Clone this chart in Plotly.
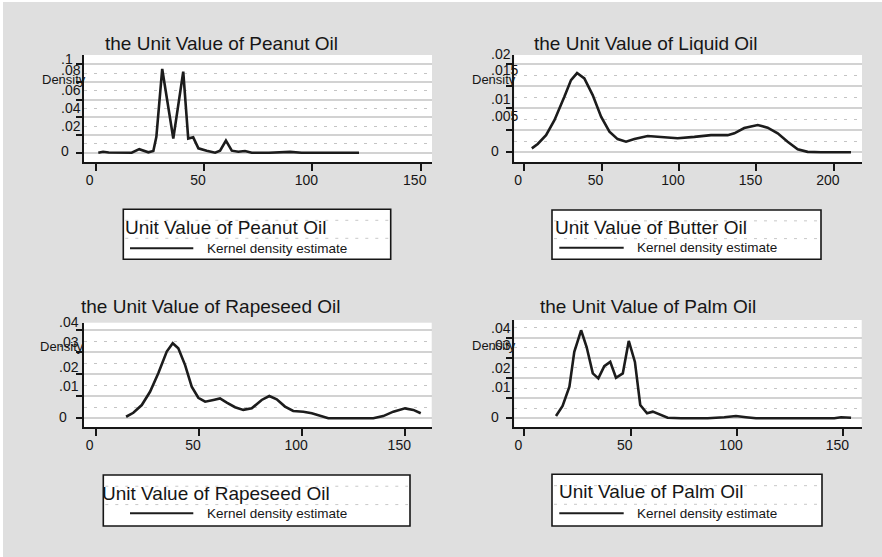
import plotly.graph_objects as go

W, H = 882, 557

# ---------------- data ----------------
peanut_x = [1.2, 3.4, 6.0, 10.0, 16.6, 20.1, 24.3, 26.6, 28.0, 30.7, 35.8, 40.4, 42.7, 45.0, 47.4,
            51.2, 55.1, 57.4, 60.1, 62.8, 65.8, 68.9, 72.0, 80.0, 89.7, 95.0, 110.0, 121.5]
peanut_y = [0.0, 0.001, 0.0002, 0.0, 0.0, 0.004, 0.0005, 0.002, 0.018, 0.0947, 0.016, 0.0916, 0.016,
            0.0174, 0.005, 0.0023, 0.0, 0.0023, 0.0136, 0.0023, 0.0011, 0.0019, 0.0, 0.0, 0.001, 0.0, 0.0, 0.0]

liquid_x = [5.0, 8.8, 14.2, 19.6, 26.0, 30.3, 34.2, 38.9, 44.3, 49.7, 55.1, 60.4, 65.8, 71.2, 79.8,
            88.4, 99.1, 109.9, 120.6, 131.4, 135.7, 142.1, 150.8, 157.2, 163.7, 170.1, 176.6, 183.0,
            191.6, 211.0]
liquid_y = [0.0009, 0.0019, 0.0039, 0.0073, 0.0126, 0.0164, 0.018, 0.0168, 0.013, 0.0081, 0.0047,
            0.003, 0.0024, 0.003, 0.0037, 0.0035, 0.0032, 0.0035, 0.0039, 0.0039, 0.0043, 0.0055,
            0.0062, 0.0056, 0.0043, 0.0024, 0.0007, 0.0001, 0.0, 0.0]

rapeseed_x = [14.7, 18.2, 22.3, 26.3, 30.3, 34.4, 37.3, 40.0, 43.3, 46.5, 49.7, 53.0, 57.0, 60.2,
              63.5, 67.5, 71.5, 75.6, 80.4, 84.1, 87.7, 91.7, 95.7, 100.6, 104.7, 108.7, 112.7,
              123.2, 134.5, 139.3, 144.2, 149.9, 153.9, 157.5]
rapeseed_y = [0.0007, 0.0025, 0.006, 0.012, 0.0204, 0.0302, 0.034, 0.0317, 0.0241, 0.0143, 0.0093,
              0.0075, 0.0083, 0.009, 0.0071, 0.005, 0.0038, 0.0045, 0.0083, 0.0101, 0.0086, 0.0053,
              0.0033, 0.003, 0.0023, 0.001, 0.0, 0.0, 0.0, 0.001, 0.003, 0.0045, 0.0038, 0.0023]

palm_x = [14.9, 18.0, 21.2, 23.5, 26.7, 29.3, 32.2, 34.8, 37.6, 40.4, 43.1, 46.3, 49.1, 52.0, 54.5,
          57.7, 60.4, 63.5, 67.4, 73.7, 86.2, 94.0, 99.5, 104.2, 108.9, 145.7, 148.9, 153.6]
palm_y = [0.0011, 0.0061, 0.0157, 0.033, 0.0437, 0.0354, 0.0223, 0.0198, 0.0259, 0.028, 0.0201,
          0.0223, 0.0384, 0.028, 0.0066, 0.0025, 0.0033, 0.002, 0.0003, 0.0, 0.0, 0.0005, 0.0011,
          0.0005, 0.0, 0.0, 0.0005, 0.0003]

titles = ["the Unit Value of Peanut Oil", "the Unit Value of Liquid Oil",
          "the Unit Value of Rapeseed Oil", "the Unit Value of Palm Oil"]
legend_titles = ["Unit Value of Peanut Oil", "Unit Value of Butter Oil",
                 "Unit Value of Rapeseed Oil", "Unit Value of Palm Oil"]
series_name = "Kernel density estimate"
y_title = "Density"

x_ticks_150 = [0, 50, 100, 150]
x_ticks_200 = [0, 50, 100, 150, 200]
y_ticks_peanut = [0, 0.02, 0.04, 0.06, 0.08, 0.1]
y_text_peanut = ["0", ".02", ".04", ".06", ".08", ".1"]
y_ticks_liquid = [0, 0.005, 0.01, 0.015, 0.02]
y_text_liquid = ["0", ".005", ".01", ".015", ".02"]
y_ticks_rapeseed = [0, 0.01, 0.02, 0.03, 0.04]
y_text_rapeseed = ["0", ".01", ".02", ".03", ".04"]
y_ticks_palm = [0, 0.01, 0.02, 0.03, 0.04]
y_text_palm = ["0", ".01", ".02", ".03", ".04"]

series = [(peanut_x, peanut_y), (liquid_x, liquid_y), (rapeseed_x, rapeseed_y), (palm_x, palm_y)]
xticks = [x_ticks_150, x_ticks_200, x_ticks_150, x_ticks_150]
yticks = [(y_ticks_peanut, y_text_peanut), (y_ticks_liquid, y_text_liquid),
          (y_ticks_rapeseed, y_text_rapeseed), (y_ticks_palm, y_text_palm)]

# ---------------- layout geometry (pixels) ----------------
panels = [
    dict(dom=(84, 432, 55, 162), xr=(-5.4, 155.2), yr=(-0.0105, 0.1105), dt=0.02,
         title=(221.7, 43.3), ylab_x=59, yshift=[1.7, 9, 9.6, 9.3, 11.7, 5.3], dens=(40, 80),
         box=(123.3, 390.7, 209.3, 259.3), lt=(125, 227.7), ln=(130, 193.3, 248.3), kt=(207.3, 248.3)),
    dict(dom=(514.3, 862, 55, 162), xr=(-6.3, 218.1), yr=(-0.0022, 0.0221), dt=0.005,
         title=(646, 43.3), ylab_x=489, yshift=[1.3, 14.3, 9, 16.7, 10], dens=(470, 80),
         box=(552, 821, 210, 259.3), lt=(555.3, 227.7), ln=(559.3, 623.7, 247.7), kt=(637, 247.7)),
    dict(dom=(84, 431.7, 322.7, 427.3), xr=(-5.7, 162.8), yr=(-0.00408, 0.0433), dt=0.01,
         title=(210, 306.7), ylab_x=57, yshift=[1.6, 10.2, 7.4, 10.4, 8.3], dens=(38, 346.7),
         box=(103.3, 410, 475, 526), lt=(101.7, 493.3), ln=(130, 193.3, 513.3), kt=(207.3, 513.3)),
    dict(dom=(514.3, 861.7, 320, 427.3), xr=(-4.7, 158.6), yr=(-0.00447, 0.0488), dt=0.01,
         title=(647.7, 306.7), ylab_x=489, yshift=[1.6, 11, 10, 12.7, 9.4], dens=(470, 345),
         box=(552, 822, 474.3, 526), lt=(559.3, 491.7), ln=(559.3, 623.7, 513.3), kt=(637, 513.3)),
]

def px(x):
    return x / W

def py(y):
    return 1 - y / H

FONT = "Liberation Sans, Arial, Helvetica, sans-serif"
INK = "#161616"

fig = go.Figure()
annotations = []
shapes = []

# white scan edges
shapes.append(dict(type="rect", xref="paper", yref="paper", x0=0, x1=px(3), y0=0, y1=1,
                   fillcolor="white", line=dict(width=0), layer="below"))
shapes.append(dict(type="rect", xref="paper", yref="paper", x0=0, x1=1, y0=py(2), y1=1,
                   fillcolor="white", line=dict(width=0), layer="below"))

for i, (p, (sx, sy)) in enumerate(zip(panels, series)):
    n = i + 1
    xa = "x" if n == 1 else f"x{n}"
    ya = "y" if n == 1 else f"y{n}"
    fig.add_trace(go.Scatter(x=sx, y=sy, mode="lines", name=series_name, xaxis=xa, yaxis=ya,
                             line=dict(color="#1c1c1c", width=2.6), showlegend=False,
                             hoverinfo="x+y"))
    x0, x1, y0, y1 = p["dom"]
    fig.layout[f"xaxis{n if n > 1 else ''}"] = dict(
        domain=[px(x0), px(x1)], range=list(p["xr"]), anchor=ya, showgrid=False, zeroline=False,
        showline=True, linecolor=INK, linewidth=2, ticks="outside", ticklen=7, tickwidth=2,
        tickcolor=INK, tickmode="array", tickvals=xticks[i], ticktext=[str(v) for v in xticks[i]],
        tickfont=dict(family=FONT, size=14, color=INK), ticklabelshift=-6, ticklabelstandoff=-3)
    fig.layout[f"yaxis{n if n > 1 else ''}"] = dict(
        domain=[py(y1), py(y0)], range=list(p["yr"]), anchor=xa, zeroline=False,
        showline=True, linecolor=INK, linewidth=2, ticks="outside", ticklen=6, tickwidth=2,
        tickcolor=INK, tickmode="linear", tick0=0, dtick=p["dt"], showticklabels=False,
        showgrid=True, gridcolor="#d2d2d2", gridwidth=1.6,
        minor=dict(dtick=p["dt"] / 2, tick0=0, showgrid=True, gridcolor="#c4c4c4", gridwidth=1,
                   griddash="3px,7px", ticks=""))
    # y tick labels (left aligned, as in the scan)
    tv, tt = yticks[i]
    for v, t, s in zip(tv, tt, p["yshift"]):
        annotations.append(dict(text=t, xref="paper", yref=ya, x=px(p["ylab_x"]), y=v, yshift=s,
                                xanchor="left", yanchor="middle", showarrow=False,
                                font=dict(family=FONT, size=14, color=INK)))
    # Density axis title
    annotations.append(dict(text=y_title, xref="paper", yref="paper", x=px(p["dens"][0]),
                            y=py(p["dens"][1]), xanchor="left", yanchor="middle", showarrow=False,
                            font=dict(family=FONT, size=13, color=INK)))
    # panel title
    annotations.append(dict(text=titles[i], xref="paper", yref="paper", x=px(p["title"][0]),
                            y=py(p["title"][1]), xanchor="center", yanchor="middle", showarrow=False,
                            font=dict(family=FONT, size=19, color=INK)))
    # legend box
    bx0, bx1, by0, by1 = p["box"]
    shapes.append(dict(type="rect", xref="paper", yref="paper", x0=px(bx0), x1=px(bx1),
                       y0=py(by1), y1=py(by0), fillcolor="white", line=dict(color=INK, width=1.6)))
    for frac in (0.22, 0.58):
        yy = by0 + frac * (by1 - by0)
        shapes.append(dict(type="line", xref="paper", yref="paper", x0=px(bx0 + 2), x1=px(bx1 - 2),
                           y0=py(yy), y1=py(yy), line=dict(color="#c8c8c8", width=1, dash="3px,7px")))
    lx0, lx1, ly = p["ln"]
    shapes.append(dict(type="line", xref="paper", yref="paper", x0=px(lx0), x1=px(lx1),
                       y0=py(ly), y1=py(ly), line=dict(color="#1c1c1c", width=2)))
    annotations.append(dict(text=legend_titles[i], xref="paper", yref="paper", x=px(p["lt"][0] - 2),
                            y=py(p["lt"][1]), xanchor="left", yanchor="middle", showarrow=False,
                            font=dict(family=FONT, size=19, color=INK)))
    annotations.append(dict(text=series_name, xref="paper", yref="paper", x=px(p["kt"][0] - 2),
                            y=py(p["kt"][1]), xanchor="left", yanchor="middle", showarrow=False,
                            font=dict(family=FONT, size=13.5, color=INK)))

fig.update_layout(
    width=W, height=H, margin=dict(l=0, r=0, t=0, b=0),
    paper_bgcolor="#dfdfdf", plot_bgcolor="white",
    font=dict(family=FONT, color=INK),
    annotations=annotations, shapes=shapes, showlegend=False,
)

fig.write_html("out.html")
